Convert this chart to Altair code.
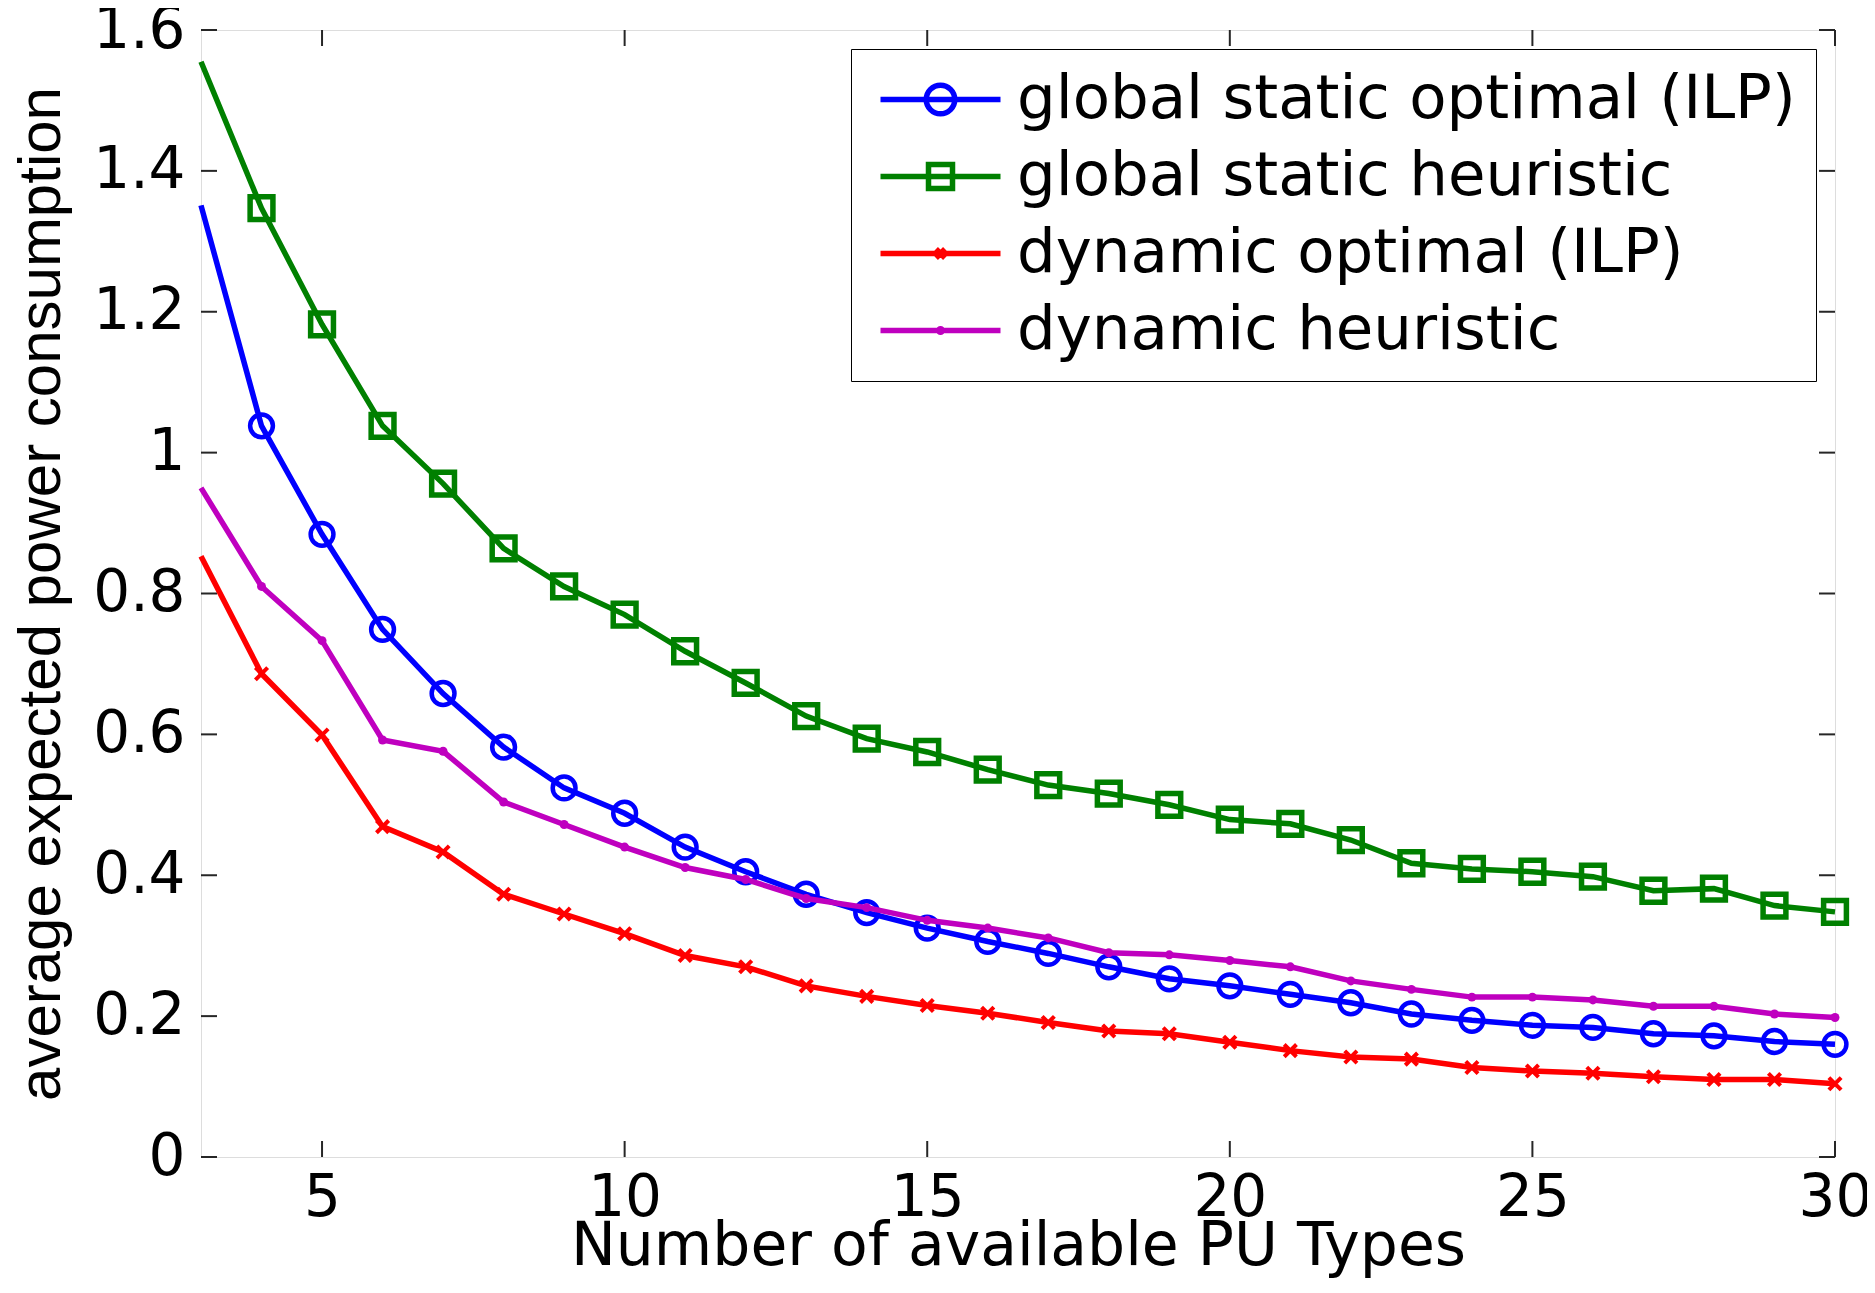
import altair as alt
import pandas as pd

# ---------------- data ----------------
pu_types = list(range(3, 31))
global_static_optimal = [1.351, 1.038, 0.884, 0.749, 0.658, 0.582, 0.524, 0.488, 0.440, 0.405,
                         0.373, 0.347, 0.325, 0.306, 0.289, 0.270, 0.253, 0.243, 0.231, 0.219,
                         0.203, 0.194, 0.187, 0.184, 0.175, 0.172, 0.164, 0.160]
global_static_heuristic = [1.555, 1.347, 1.182, 1.038, 0.956, 0.864, 0.810, 0.770, 0.718, 0.673,
                           0.626, 0.594, 0.575, 0.550, 0.528, 0.516, 0.500, 0.479, 0.473, 0.450,
                           0.417, 0.409, 0.405, 0.398, 0.378, 0.381, 0.357, 0.348]
dynamic_optimal = [0.853, 0.686, 0.599, 0.469, 0.433, 0.373, 0.345, 0.317, 0.286, 0.270,
                   0.243, 0.228, 0.215, 0.204, 0.191, 0.179, 0.175, 0.163, 0.151, 0.142,
                   0.139, 0.127, 0.122, 0.119, 0.114, 0.110, 0.110, 0.104]
dynamic_heuristic = [0.950, 0.810, 0.733, 0.592, 0.576, 0.504, 0.472, 0.440, 0.411, 0.394,
                     0.367, 0.354, 0.336, 0.325, 0.311, 0.290, 0.287, 0.279, 0.270, 0.250,
                     0.238, 0.227, 0.227, 0.223, 0.214, 0.214, 0.203, 0.198]

series_names = ["global static optimal (ILP)", "global static heuristic",
                "dynamic optimal (ILP)", "dynamic heuristic"]
series_colors = ["#0000FF", "#008000", "#FF0000", "#BF00BF"]
x_ticks = [5, 10, 15, 20, 25, 30]
y_ticks = [0, 0.2, 0.4, 0.6, 0.8, 1.0, 1.2, 1.4, 1.6]
first_marker_x = 4   # the reference draws no marker at x = 3

# ---------------- tables ----------------
rows = []
for name, vals in zip(series_names, [global_static_optimal, global_static_heuristic,
                                     dynamic_optimal, dynamic_heuristic]):
    for xv, yv in zip(pu_types, vals):
        rows.append({"n": xv, "power": yv, "series": name})
df = pd.DataFrame(rows)
xtick_df = pd.DataFrame({"n": x_ticks})
ytick_df = pd.DataFrame({"power": y_ticks})

W, H = 1634, 1127
FRAME = "#262626"
TXT_FONT = "DejaVu Sans"

x_axis = alt.Axis(values=x_ticks, title="Number of available PU Types", domain=False, ticks=False,
                  tickSize=0, grid=False, labelFont=TXT_FONT, labelFontSize=58, labelColor="black",
                  labelPadding=58, labelBaseline="alphabetic", labelFlush=False, labelOverlap=False,
                  titleFont=TXT_FONT, titleFontSize=60, titleFontWeight="normal", titleColor="black",
                  titleY=107, titleBaseline="alphabetic")
y_axis = alt.Axis(values=y_ticks, format="~g", title="average expected power consumption",
                  domain=False, ticks=False, tickSize=0, grid=False, labelFont=TXT_FONT,
                  labelFontSize=58, labelColor="black", labelPadding=16, labelBaseline="middle",
                  labelFlush=False, labelOverlap=False, titleFont="Liberation Sans",
                  titleFontSize=60, titleFontWeight="normal", titleColor="black",
                  titleX=-129, titleBaseline="bottom")

x_scale = alt.Scale(domain=[3, 30], nice=False, zero=False)
y_scale = alt.Scale(domain=[0, 1.6], nice=False, zero=False)


def X():
    return alt.X("n:Q", scale=x_scale, axis=x_axis)


def Y():
    return alt.Y("power:Q", scale=y_scale, axis=y_axis)


base = alt.Chart(df)

point_styles = [
    dict(shape="circle", filled=False, size=520, strokeWidth=4.5),
    dict(shape="square", filled=False, size=520, strokeWidth=5.5),
    dict(shape="M-1,-1L1,1M-1,1L1,-1", filled=False, size=150, strokeWidth=4),
    dict(shape="circle", filled=True, size=80, strokeWidth=0),
]

layers = []
# tick marks pointing inwards on all four sides (MATLAB box style)
layers.append(alt.Chart(xtick_df).mark_rule(color=FRAME, strokeWidth=2).encode(
    x=X(), y=alt.value(H), y2=alt.value(H - 16)))
layers.append(alt.Chart(xtick_df).mark_rule(color=FRAME, strokeWidth=2).encode(
    x=X(), y=alt.value(0), y2=alt.value(16)))
layers.append(alt.Chart(ytick_df).mark_rule(color=FRAME, strokeWidth=2).encode(
    y=Y(), x=alt.value(0), x2=alt.value(16)))
layers.append(alt.Chart(ytick_df).mark_rule(color=FRAME, strokeWidth=2).encode(
    y=Y(), x=alt.value(W), x2=alt.value(W - 16)))

for name, color, style in zip(series_names, series_colors, point_styles):
    sub = base.transform_filter(alt.datum.series == name)
    layers.append(sub.mark_line(color=color, strokeWidth=5.5).encode(x=X(), y=Y()))
    layers.append(sub.transform_filter(alt.datum.n >= first_marker_x)
                  .mark_point(color=color, opacity=1, **style).encode(x=X(), y=Y()))

# legend layer (invisible marks, legend symbols drawn as line + marker paths)
legend_paths = [
    "M-4,0H4M0.95,0A0.95,0.95,0,1,1,-0.95,0A0.95,0.95,0,1,1,0.95,0",
    "M-4,0H4M-0.8,-0.8H0.8V0.8H-0.8Z",
    "M-4,0H4M-0.3,-0.3L0.3,0.3M-0.3,0.3L0.3,-0.3",
    "M-4,0H4M0.12,0A0.12,0.12,0,1,1,-0.12,0A0.12,0.12,0,1,1,0.12,0",
]
legend_def = dict(title=None, orient="top-right", offset=19, padding=20,
                  strokeColor="black", fillColor="white", cornerRadius=0,
                  labelFont=TXT_FONT, labelFontSize=61, labelColor="black", labelLimit=3000,
                  symbolSize=900, symbolStrokeWidth=5.5, symbolOpacity=1,
                  symbolOffset=39, labelOffset=46, rowPadding=15)
layers.append(base.mark_point(opacity=0, filled=False, strokeWidth=5.5).encode(
    x=X(), y=Y(),
    color=alt.Color("series:N", scale=alt.Scale(domain=series_names, range=series_colors),
                    legend=alt.Legend(**legend_def)),
    shape=alt.Shape("series:N", scale=alt.Scale(domain=series_names, range=legend_paths),
                    legend=alt.Legend(**legend_def)),
))

chart = alt.layer(*layers).properties(
    width=W, height=H,
    autosize=alt.AutoSizeParams(type="none"),
    padding={"left": 193, "top": 22, "right": 32, "bottom": 122},
).configure_view(stroke=FRAME, strokeWidth=2).configure(background="white")

chart.save("out.html", embed_options={"renderer": "svg", "actions": False})
